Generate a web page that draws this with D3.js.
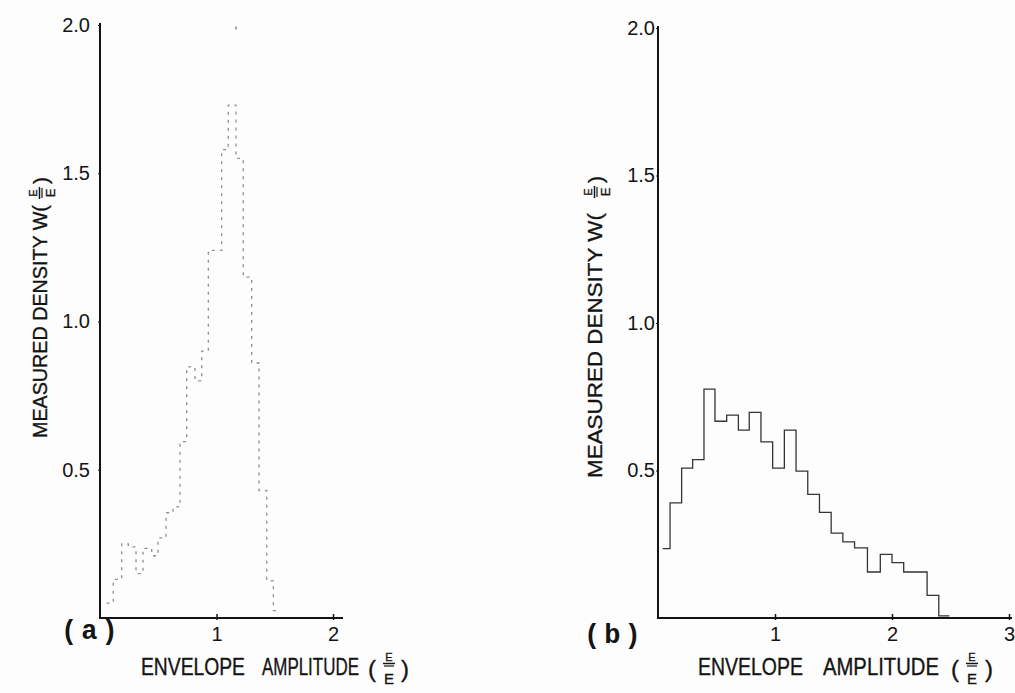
<!DOCTYPE html>
<html><head><meta charset="utf-8">
<script src="https://cdn.jsdelivr.net/npm/d3@7"></script>
<style>body{margin:0;background:#fdfdfd} svg{display:block}</style>
</head><body><svg id="c" width="1015" height="693"></svg>
<script>
// ---- data ----
const aEdges = [0.057,0.114,0.186,0.243,0.309,0.369,0.444,0.498,0.567,0.627,0.687,0.744,0.815,0.873,0.930,0.987,1.044,1.101,1.167,1.230,1.302,1.365,1.431,1.488,1.545];
const aValues = [0.05,0.13,0.25,0.24,0.15,0.235,0.21,0.27,0.355,0.375,0.595,0.847,0.80,0.90,1.24,1.24,1.58,1.73,1.55,1.15,0.86,0.43,0.125,0.025];
const aSpike = [{x:1.167, y:1.99}];
const bEdges = [0.04,0.103,0.202,0.296,0.393,0.487,0.587,0.687,0.78,0.88,0.98,1.08,1.18,1.28,1.38,1.48,1.58,1.68,1.79,1.90,2.0,2.10,2.2,2.3,2.40,2.49];
const bValues = [0.235,0.39,0.508,0.537,0.776,0.667,0.688,0.637,0.697,0.597,0.508,0.637,0.498,0.419,0.358,0.288,0.258,0.238,0.156,0.216,0.188,0.156,0.156,0.077,0.007];
const xTicksA = [1,2];
const xTicksB = [1,2,3];
const yTicks = [0.5,1.0,1.5,2.0];
const yTickLabels = ["0.5","1.0","1.5","2.0"];
const xTitleWords = ["ENVELOPE","AMPLITUDE"];
const yTitle = "MEASURED  DENSITY  W(";
const panelLabels = ["(a)","(b)"];

const svg = d3.select("#c");
const FONT = "'Liberation Sans', Arial, sans-serif";
const INK = "#141414";

function stepPoints(edges, values){
  const pts = [];
  values.forEach((v,i)=>{ pts.push([edges[i], v]); pts.push([edges[i+1], v]); });
  return pts;
}

const panels = [
  {edges:aEdges, values:aValues, spike:aSpike, xDom:[0,2], xRange:[100,333], yRange:[618,25],
   xTitle:{w:[[141,104],[262,97]], paren:368, frac:389, close:401},
   xTicks:xTicksA, xEnd:343, yLabGap:10, label:panelLabels[0], labelPos:[61,639],
   yTitle:{x:47, y:438, len:233, frac:193},
   stroke:"#8f8f8f", dash:"3,5", sw:1.3},
  {edges:bEdges, values:bValues, spike:[], xDom:[0,3], xRange:[658,1009], yRange:[618,28],
   xTitle:{w:[[698,105],[823,116]], paren:951, frac:972, close:985},
   xTicks:xTicksB, xEnd:1012, yLabGap:3, label:panelLabels[1], labelPos:[584,643],
   yTitle:{x:602, y:478, len:265, frac:192},
   stroke:"#353535", dash:null, sw:1.3}
];

function txt(sel, s, size){
  return sel.append("text").text(s).attr("font-family",FONT).attr("font-size",size)
    .attr("fill",INK).attr("stroke",INK).attr("stroke-width",0.35);
}
// text squeezed horizontally to a target width (transform, so its box is the drawn box)
function fitText(sel, s, size, x, y, width, rotate){
  const gg = sel.append("g");
  const t = txt(gg, s, size).attr("x",0).attr("y",0);
  const nat = t.node().getComputedTextLength();
  const k = width / nat;
  gg.attr("transform",`translate(${x},${y})${rotate?" rotate(-90)":""} scale(${k},1)`);
  return gg;
}

panels.forEach(p=>{
  const x = d3.scaleLinear().domain(p.xDom).range(p.xRange);
  const y = d3.scaleLinear().domain([0,2]).range(p.yRange);
  const g = svg.append("g");
  const x0 = x(0), y0 = y(0);

  // axes lines
  g.append("line").attr("x1",x0).attr("x2",x0).attr("y1",y0+1).attr("y2",y(2)-2)
    .attr("stroke",INK).attr("stroke-width",2);
  g.append("line").attr("x1",x0-1).attr("x2",p.xEnd).attr("y1",y0).attr("y2",y0)
    .attr("stroke",INK).attr("stroke-width",2);

  // x ticks + labels
  const xAxis = d3.axisBottom(x).tickValues(p.xTicks).tickFormat(d3.format("d"))
    .tickSizeInner(-4).tickSizeOuter(0).tickPadding(9);
  const xg = g.append("g").attr("transform",`translate(0,${y0})`).call(xAxis);
  xg.select(".domain").remove();
  xg.selectAll("line").attr("stroke",INK).attr("stroke-width",1.5).attr("y2",-4).attr("y1",2);
  xg.selectAll("text").attr("font-family",FONT).attr("font-size",20).attr("fill",INK);

  // y tick labels
  const yAxis = d3.axisLeft(y).tickValues(yTicks).tickFormat((d,i)=>yTickLabels[i])
    .tickSizeInner(2).tickSizeOuter(0).tickPadding(p.yLabGap-2);
  const yg = g.append("g").attr("transform",`translate(${x0},0)`).call(yAxis);
  yg.select(".domain").remove();
  yg.selectAll("line").attr("stroke",INK).attr("stroke-width",1.2);
  yg.selectAll("text").attr("font-family",FONT).attr("font-size",20).attr("fill",INK);

  // histogram
  const line = d3.line().x(d=>x(d[0])).y(d=>y(d[1]));
  const path = g.append("path").datum(stepPoints(p.edges,p.values)).attr("d",line)
    .attr("fill","none").attr("stroke",p.stroke).attr("stroke-width",p.sw);
  if(p.dash) path.attr("stroke-dasharray",p.dash);
  g.selectAll(".spike").data(p.spike).join("rect").attr("class","spike")
    .attr("x",d=>x(d.x)-0.8).attr("y",d=>y(d.y)-1.5).attr("width",1.6).attr("height",3)
    .attr("fill",p.stroke);

  // panel label
  g.append("text").attr("x",p.labelPos[0]).attr("y",p.labelPos[1]).text(p.label)
    .attr("font-family","'Liberation Mono', 'Courier New', monospace").attr("font-weight","bold")
    .attr("font-size",27).attr("letter-spacing",4).attr("fill",INK);

  // x title
  const xt = p.xTitle, base = 675;
  xTitleWords.forEach((w,i)=> fitText(g, w, 23, xt.w[i][0], base, xt.w[i][1], false));
  txt(g,"(",24).attr("x",xt.paren).attr("y",base+2);
  txt(g,")",24).attr("x",xt.close).attr("y",base+2);
  txt(g,"E",11).attr("x",xt.frac-3.7).attr("y",661);
  txt(g,"E",15).attr("x",xt.frac-5).attr("y",684);
  g.append("line").attr("x1",xt.frac-6).attr("x2",xt.frac+6).attr("y1",663.5).attr("y2",663.5)
    .attr("stroke",INK).attr("stroke-width",1.5);
  g.append("line").attr("x1",xt.frac-5).attr("x2",xt.frac+5).attr("y1",666).attr("y2",666)
    .attr("stroke",INK).attr("stroke-width",1.2);

  // y title (rotated)
  const yt = p.yTitle;
  fitText(g, yTitle, 21, yt.x, yt.y, yt.len, true);
  const rg = g.append("g").attr("transform",`translate(${yt.x},${yt.y}) rotate(-90)`);
  const fc = yt.y - yt.frac;
  txt(rg,"E",11).attr("x",fc-3.7).attr("y",-10);
  txt(rg,"E",13).attr("x",fc-4.3).attr("y",8);
  txt(rg,")",21).attr("x",fc+9).attr("y",1);
  rg.append("line").attr("x1",fc-6).attr("x2",fc+6).attr("y1",-7.5).attr("y2",-7.5)
    .attr("stroke",INK).attr("stroke-width",1.5);
  rg.append("line").attr("x1",fc-5).attr("x2",fc+5).attr("y1",-5).attr("y2",-5)
    .attr("stroke",INK).attr("stroke-width",1.2);
});
</script></body></html>
